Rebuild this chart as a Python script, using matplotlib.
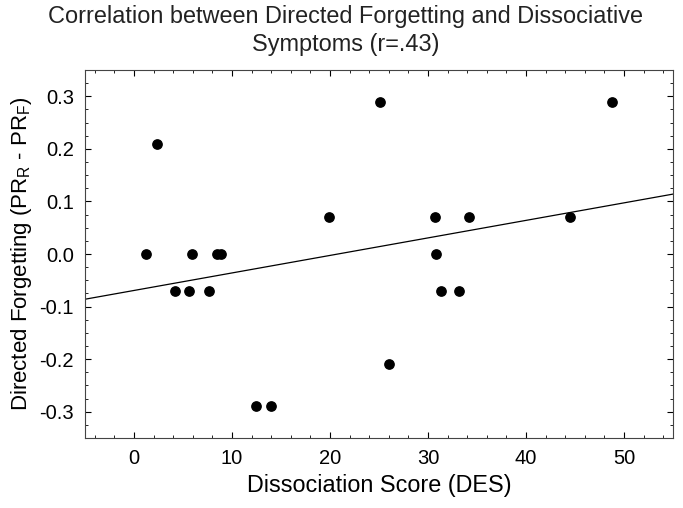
import numpy as np
import matplotlib
matplotlib.use('Agg')
import matplotlib.pyplot as plt
from matplotlib.ticker import AutoMinorLocator, MultipleLocator

plt.rcParams['font.family'] = ['Liberation Sans', 'DejaVu Sans']

# values
des = [1.2, 2.3, 4.2, 5.6, 5.9, 7.7, 8.5, 8.9, 12.4, 14.0, 19.9,
       25.1, 26.0, 30.75, 30.8, 31.3, 33.2, 34.2, 44.5, 48.8]
forgetting = [0.0, 0.21, -0.07, -0.07, 0.0, -0.07, 0.0, 0.0, -0.29, -0.29, 0.07,
              0.29, -0.21, 0.07, 0.0, -0.07, -0.07, 0.07, 0.07, 0.29]

fig = plt.figure(figsize=(6.83, 5.08), dpi=100)
ax = fig.add_axes([85/683, 1-438/508, (673-85)/683, (438-70)/508])

ax.scatter(des, forgetting, s=45, color='black', zorder=3)

slope, inter = np.polyfit(des, forgetting, 1)
xl = np.array([-5, 55])
ax.plot(xl, slope*xl + inter, color='black', lw=0.9)

ax.set_xlim(-5, 55)
ax.set_ylim(-0.35, 0.35)
ax.xaxis.set_major_locator(MultipleLocator(10))
ax.yaxis.set_major_locator(MultipleLocator(0.1))
ax.xaxis.set_minor_locator(AutoMinorLocator(5))
ax.yaxis.set_minor_locator(AutoMinorLocator(4))
ax.tick_params(which='both', direction='in', top=True, right=True, labelsize=14.5, pad=8)
ax.tick_params(which='major', length=4)
ax.tick_params(which='minor', length=2)
ax.set_yticklabels(['%.1f' % v for v in ax.get_yticks()])
for s in ax.spines.values():
    s.set_color('#444444')

ax.set_xlabel('Dissociation Score (DES)', fontsize=16.8)
ax.set_ylabel('Directed Forgetting (PR$_\\mathregular{R}$ - PR$_\\mathregular{F}$)', fontsize=16)
fig.text(346/683, 1 - 5/508,
         'Correlation between Directed Forgetting and Dissociative\nSymptoms (r=.43)',
         fontsize=16.9, color='#222222', ha='center', va='top', linespacing=1.3)

fig.savefig('out.png', dpi=100)
